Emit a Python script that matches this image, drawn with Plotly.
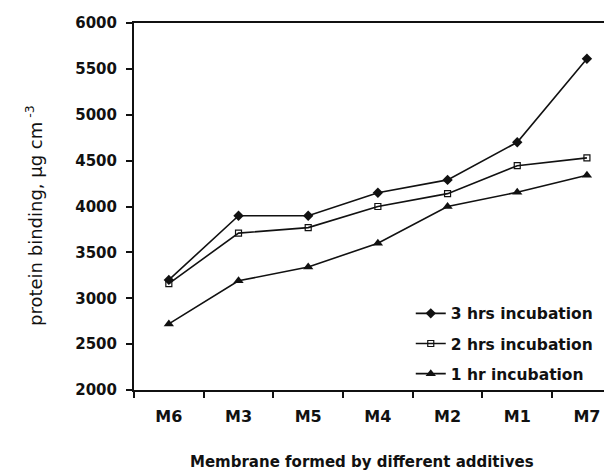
import plotly.graph_objects as go

categories = ["M6", "M3", "M5", "M4", "M2", "M1", "M7"]
hrs3 = [3200, 3900, 3900, 4150, 4290, 4700, 5610]
hrs2 = [3160, 3710, 3770, 4000, 4140, 4445, 4530]
hrs1 = [2720, 3190, 3340, 3600, 4000, 4155, 4340]
series_names = ["3 hrs incubation", "2 hrs incubation", "1 hr incubation"]
y_ticks = [2000, 2500, 3000, 3500, 4000, 4500, 5000, 5500, 6000]

FONT = "DejaVu Sans"
BOLD = dict(family=FONT, weight="bold", color="#111")
fig = go.Figure()
styles = [
    dict(symbol="diamond", size=8, color="#111"),
    dict(symbol="square-open", size=6, color="#111", line=dict(width=1.2, color="#111")),
    dict(symbol="triangle-up", size=9, color="#111"),
]
for i, (name, vals) in enumerate(zip(series_names, [hrs3, hrs2, hrs1])):
    fig.add_trace(go.Scatter(
        x=categories, y=vals, name=name, mode="lines+markers",
        line=dict(color="#111", width=1.6),
        marker=styles[i], legendgroup=f"g{i}",
    ))

# page body has an 8px default margin: figure sized to fill the rest of the window
fig.update_layout(
    width=604, height=464,
    margin=dict(l=126, r=0, t=15, b=82),
    paper_bgcolor="white", plot_bgcolor="white",
    font=dict(family=FONT, size=15, color="#111"),
    showlegend=True,
    legend=dict(x=0.579, y=0.254, xanchor="left", yanchor="top",
                bgcolor="rgba(0,0,0,0)", font=dict(size=15.5, **BOLD),
                tracegroupgap=7, traceorder="grouped"),
    xaxis=dict(type="category", range=[-0.5, 6.36], showline=True, linecolor="#111",
               linewidth=2, mirror=True, ticks="outside", ticklen=6, tickwidth=2,
               tickcolor="#111", tickson="boundaries", showgrid=False,
               tickfont=dict(size=16, **BOLD), ticklabelstandoff=11),
    yaxis=dict(range=[2000, 6000], tickvals=y_ticks, showline=True, linecolor="#111",
               linewidth=2, ticks="outside", ticklen=6, tickwidth=2, tickcolor="#111",
               showgrid=False, zeroline=False, tickfont=dict(size=15, **BOLD),
               ticklabelstandoff=6),
)
fig.add_annotation(text="Membrane formed by different additives", xref="paper", yref="paper",
                   x=(362 - 134) / 478, y=(390 - 462) / 367, xanchor="center", yanchor="middle",
                   showarrow=False, font=dict(size=15, **BOLD))
fig.add_annotation(text="protein binding, µg cm<sup> -3</sup>", xref="paper", yref="paper",
                   x=(34 - 134) / 478, y=(390 - 216) / 367, xanchor="center", yanchor="middle",
                   textangle=-90, showarrow=False, font=dict(size=18, family=FONT, color="#111"))
fig.write_html("out.html")
